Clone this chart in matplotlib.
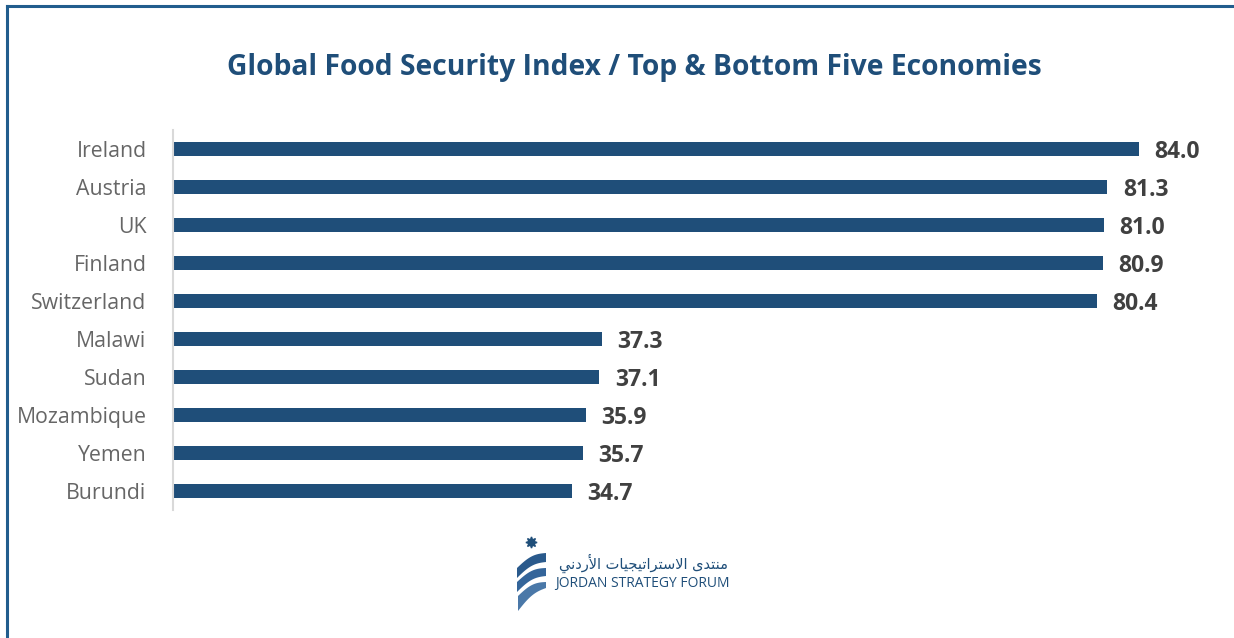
import numpy as np
import matplotlib
matplotlib.use("Agg")
import matplotlib.pyplot as plt
from matplotlib.lines import Line2D
from matplotlib.patches import Polygon

plt.rcParams['font.family'] = ['Open Sans', 'DejaVu Sans']

countries = ["Ireland", "Austria", "UK", "Finland", "Switzerland",
             "Malawi", "Sudan", "Mozambique", "Yemen", "Burundi"]
scores = [84.0, 81.3, 81.0, 80.9, 80.4, 37.3, 37.1, 35.9, 35.7, 34.7]

BLUE = "#1f4e79"

fig = plt.figure(figsize=(12.34, 6.38), dpi=100)

# frame lines (left and top only)
fig.add_artist(Line2D([7 / 1234, 7 / 1234], [0, 1 - 6 / 638], transform=fig.transFigure,
                      color="#215d8d", lw=2.2))
fig.add_artist(Line2D([7 / 1234, 1], [1 - 6 / 638, 1 - 6 / 638], transform=fig.transFigure,
                      color="#215d8d", lw=2.2))

fig.text(634 / 1234, 1 - 67 / 638, "Global Food Security Index / Top & Bottom Five Economies",
         ha="center", va="center", fontsize=20.3, fontweight="bold", color=BLUE)

ax = fig.add_axes([173 / 1234, 128 / 638, 1023 / 1234, 380 / 638])
y = np.arange(len(countries))
ax.barh(y, scores, height=0.35, color=BLUE)
ax.set_xlim(0, 89)
ax.set_ylim(len(countries) - 0.5, -0.5)
ax.set_yticks(y)
ax.set_yticklabels(countries, fontsize=15.3, color="#666666")
ax.tick_params(axis="y", length=0, pad=19)
ax.set_xticks([])
for s in ["top", "right", "bottom"]:
    ax.spines[s].set_visible(False)
ax.spines["left"].set_color("#d9d9d9")
ax.spines["left"].set_linewidth(1.5)

for yi, v in zip(y, scores):
    ax.annotate(f"{v:.1f}", (v, yi), xytext=(11, -1.8), textcoords="offset points",
                ha="left", va="center", fontsize=16.5, fontweight="bold", color="#404040")

# logo
lax = fig.add_axes([505 / 1234, 1 - 618 / 638, 50 / 1234, 88 / 638])
lax.set_xlim(0, 50)
lax.set_ylim(88, 0)
lax.axis("off")
lax.plot([26], [12], marker=(8, 1, 0), markersize=8, color=BLUE)
t = np.linspace(0, 1, 30)
bands = [(12, 38, 10, 23, 9), (12, 52, 10, 38, 8), (13, 66, 15, 52, 6)]
cols = ["#2a5a8c", "#34659a", "#4a78a8"]
for (xl, yl, hl, yr, hr), col in zip(bands, cols):
    xs = xl + (41 - xl) * t
    ytop = yl + (yr - yl) * t - 4 * np.sin(np.pi * t)
    hh = hl + (hr - hl) * t
    pts = np.vstack([np.column_stack([xs, ytop]),
                     np.column_stack([xs[::-1], (ytop + hh)[::-1]])])
    lax.add_patch(Polygon(pts, closed=True, color=col, lw=0))

ar_word1 = "\uFEEF\uFEAA\uFE98\uFEE8\uFEE3"
ar_word2 = "\uFE95\uFE8E\uFEF4\uFEA0\uFEF4\uFE97\uFE8D\uFEAE\uFE98\uFEB3\uFEFB\uFE8D"
ar_word3 = "\uFEF2\uFEE7\uFEA9\uFEAD\uFEF7\uFE8D"
fig.text(728 / 1234, 1 - 563 / 638, ar_word3 + " " + ar_word2 + " " + ar_word1,
         ha="right", va="center", fontsize=10.5, color=BLUE, family=["DejaVu Sans"])
fig.text(555 / 1234, 1 - 584 / 638, "JORDAN STRATEGY FORUM",
         ha="left", va="center", fontsize=10, color=BLUE)

fig.savefig("out.png", dpi=100, facecolor="white")
